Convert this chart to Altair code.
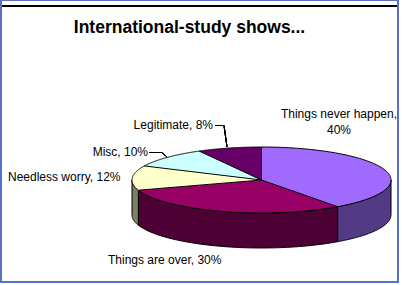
import altair as alt
import pandas as pd

title_text = "International-study shows..."
categories = ["Things never happen", "Things are over", "Needless worry", "Misc", "Legitimate"]
percents = [40, 30, 12, 10, 8]
top_colors = ["#A06AFF", "#990066", "#FFFFCC", "#CCFFFF", "#660066"]
side_colors = ["#523A84", "#4D0033", "#7F7F66", "#667F7F", "#330033"]

df = pd.DataFrame({"category": categories, "percent": percents, "order": list(range(len(categories)))})

FONT = "Liberation Sans"
xs = alt.Scale(domain=[-1, 1], range=[132, 391])
ys = alt.Scale(domain=[-1, 1], range=[147, 213])
DEPTH = 35 / 33  # side height in y-units of the ellipse

base = alt.Chart(df).transform_window(
    cum="sum(percent)", sort=[alt.SortField("order")], frame=[None, 0]
).transform_calculate(
    a0="(datum.cum - datum.percent) * 2 * PI / 100",
    a1="datum.cum * 2 * PI / 100",
)

# visible side walls (front half of the ellipse)
sides = base.transform_calculate(
    b0="max(datum.a0, PI / 2)", b1="min(datum.a1, 3 * PI / 2)"
).transform_filter("datum.b1 > datum.b0").transform_calculate(
    idx="sequence(0, 243)"
).transform_flatten(["idx"]).transform_calculate(
    u="datum.idx <= 120 ? datum.idx / 120 : (datum.idx <= 241 ? (241 - datum.idx) / 120 : 0)",
    bot="(datum.idx > 120 && datum.idx <= 241) ? 1 : 0",
).transform_calculate(
    ang="datum.b0 + (datum.b1 - datum.b0) * datum.u",
).transform_calculate(
    px="sin(datum.ang)",
    py=f"-cos(datum.ang) + datum.bot * {DEPTH}",
).mark_line(filled=True, stroke="black", strokeWidth=1, interpolate="linear", strokeJoin="round").encode(
    x=alt.X("px:Q", scale=xs, axis=None),
    y=alt.Y("py:Q", scale=ys, axis=None),
    order=alt.Order("idx:Q"),
    detail="category:N",
    fill=alt.Fill("category:N", scale=alt.Scale(domain=categories, range=side_colors), legend=None),
)

# top face slices
top = base.transform_calculate(
    idx="sequence(-1, 121)"
).transform_flatten(["idx"]).transform_calculate(
    ang="datum.a0 + (datum.a1 - datum.a0) * max(datum.idx, 0) / 120",
).transform_calculate(
    px="datum.idx < 0 ? 0 : sin(datum.ang)",
    py="datum.idx < 0 ? 0 : -cos(datum.ang)",
).mark_line(filled=True, stroke="black", strokeWidth=1, interpolate="linear", strokeJoin="round").encode(
    x=alt.X("px:Q", scale=xs, axis=None),
    y=alt.Y("py:Q", scale=ys, axis=None),
    order=alt.Order("idx:Q"),
    detail="category:N",
    fill=alt.Fill("category:N", scale=alt.Scale(domain=categories, range=top_colors), legend=None),
)

lab = alt.Chart(df).transform_calculate(label="datum.category + ', ' + datum.percent + '%'")


def label_layer(cat, x, y, align, two_lines=False):
    ch = alt.Chart(df).transform_filter(alt.datum.category == cat)
    if two_lines:
        ch = ch.transform_calculate(label="datum.category + ',\\n' + datum.percent + '%'")
        mk = ch.mark_text(x=x, y=y, align=align, baseline="alphabetic", font=FONT, fontSize=12,
                          color="black", lineBreak="\n", lineHeight=16)
    else:
        ch = ch.transform_calculate(label="datum.category + ', ' + datum.percent + '%'")
        mk = ch.mark_text(x=x, y=y, align=align, baseline="alphabetic", font=FONT, fontSize=12, color="black")
    return mk.encode(text="label:N")


labels = [
    label_layer("Things never happen", 339, 118, "center", True),
    label_layer("Things are over", 108, 264, "left"),
    label_layer("Needless worry", 8, 181, "left"),
    label_layer("Misc", 148, 156, "right"),
    label_layer("Legitimate", 213, 129, "right"),
]


def seg(x1, y1, x2, y2, color="black", w=1):
    return alt.Chart(df).mark_rule(color=color, strokeWidth=w).encode(
        x=alt.value(x1), y=alt.value(y1), x2=alt.value(x2), y2=alt.value(y2)
    )


leaders = [
    seg(149, 152.5, 162, 152.5),
    seg(162, 152.5, 167, 157),
    seg(215, 125.5, 224, 125.5),
    seg(224, 125.5, 227, 147),
]

title = alt.Chart(pd.DataFrame({"t": [title_text]})).mark_text(
    x=189.5, y=33, align="center", baseline="alphabetic", font=FONT, fontSize=17.5,
    fontWeight="bold", color="black"
).encode(text="t:N")

topline = seg(2, 6, 397, 6, "black", 1.5)
border = alt.Chart(df).mark_rect(fill=None, stroke="#5a6fc6", strokeWidth=2).encode(
    x=alt.value(1), x2=alt.value(398), y=alt.value(0), y2=alt.value(282)
)

chart = alt.layer(
    sides, top, *leaders, *labels, title, topline, border
).resolve_scale(fill="independent").properties(
    width=402, height=285, padding=0, autosize=alt.AutoSizeParams(type="none"),
    background="white"
).configure_view(strokeWidth=0)

chart.save("out.html", embed_options={"renderer": "svg", "actions": False})
